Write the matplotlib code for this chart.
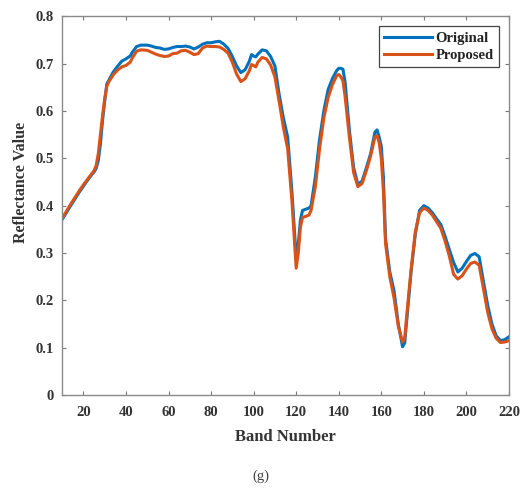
import matplotlib.pyplot as plt

# reflectance spectrum, original vs. reconstructed
bands = [10, 12, 14, 16, 18, 20, 22, 24, 25, 26, 27, 28, 29, 30, 31, 32, 34, 36, 38, 40,
         42, 43, 45, 47, 50, 52, 54, 56, 58, 60, 62, 64, 66, 68, 70, 72, 74, 76, 78, 80,
         82, 84, 86, 88, 90, 92, 94, 96, 98, 99, 100, 101, 102, 104, 106, 108, 110, 112, 114, 116,
         118, 120, 121, 122, 123, 126, 127, 129, 131, 133, 135, 137, 139, 140, 141, 142, 143, 145, 147, 149,
         151, 153, 155, 157, 158, 159, 160, 161, 162, 164, 166, 168, 170, 171, 172, 174, 176, 178, 180, 182,
         184, 186, 188, 190, 192, 194, 196, 198, 200, 202, 204, 206, 208, 210, 212, 214, 216, 218, 220]

original = [0.371, 0.385, 0.400, 0.414, 0.428, 0.441, 0.454, 0.466, 0.471, 0.479, 0.495, 0.530, 0.580, 0.620, 0.657, 0.665, 0.682, 0.694, 0.705, 0.710,
            0.716, 0.724, 0.736, 0.739, 0.739, 0.737, 0.734, 0.733, 0.730, 0.731, 0.734, 0.736, 0.736, 0.737, 0.735, 0.731, 0.735, 0.741, 0.744, 0.744,
            0.746, 0.747, 0.741, 0.732, 0.715, 0.695, 0.681, 0.687, 0.705, 0.719, 0.716, 0.714, 0.720, 0.729, 0.727, 0.715, 0.695, 0.635, 0.585, 0.545,
            0.430, 0.290, 0.320, 0.370, 0.390, 0.395, 0.400, 0.460, 0.540, 0.600, 0.645, 0.668, 0.685, 0.690, 0.690, 0.688, 0.660, 0.560, 0.480, 0.445,
            0.452, 0.480, 0.510, 0.555, 0.560, 0.545, 0.525, 0.460, 0.330, 0.260, 0.220, 0.150, 0.102, 0.110, 0.160, 0.260, 0.340, 0.390, 0.400, 0.395,
            0.385, 0.372, 0.360, 0.335, 0.307, 0.280, 0.260, 0.268, 0.282, 0.295, 0.299, 0.292, 0.240, 0.190, 0.150, 0.125, 0.115, 0.117, 0.123]

proposed = [0.373, 0.388, 0.403, 0.417, 0.431, 0.444, 0.456, 0.468, 0.474, 0.485, 0.510, 0.550, 0.590, 0.625, 0.652, 0.662, 0.676, 0.686, 0.693, 0.696,
            0.703, 0.712, 0.726, 0.729, 0.728, 0.724, 0.720, 0.717, 0.715, 0.716, 0.721, 0.722, 0.727, 0.728, 0.724, 0.719, 0.721, 0.733, 0.737, 0.736,
            0.736, 0.735, 0.730, 0.722, 0.703, 0.678, 0.662, 0.668, 0.685, 0.698, 0.696, 0.693, 0.703, 0.713, 0.710, 0.697, 0.672, 0.620, 0.565, 0.520,
            0.410, 0.268, 0.300, 0.355, 0.375, 0.380, 0.390, 0.440, 0.520, 0.585, 0.628, 0.655, 0.674, 0.677, 0.672, 0.663, 0.630, 0.545, 0.470, 0.440,
            0.447, 0.474, 0.505, 0.545, 0.548, 0.533, 0.500, 0.430, 0.320, 0.250, 0.205, 0.145, 0.112, 0.120, 0.170, 0.265, 0.345, 0.385, 0.395, 0.390,
            0.380, 0.366, 0.352, 0.325, 0.293, 0.255, 0.245, 0.252, 0.266, 0.278, 0.281, 0.274, 0.225, 0.175, 0.140, 0.120, 0.111, 0.112, 0.115]

xticks = [20, 40, 60, 80, 100, 120, 140, 160, 180, 200, 220]
yticks = [0, 0.1, 0.2, 0.3, 0.4, 0.5, 0.6, 0.7, 0.8]

plt.rcParams['font.family'] = ['Liberation Serif', 'DejaVu Serif']
plt.rcParams['font.weight'] = 'bold'

fig = plt.figure(figsize=(5.22, 4.92), dpi=100)
ax = fig.add_axes([0.119, 0.197, 0.856, 0.770])

ax.plot(bands, original, color='#0072BD', lw=2.2, label='Original')
ax.plot(bands, proposed, color='#D95319', lw=2.2, label='Proposed')

ax.set_xlim(10, 220)
ax.set_ylim(0, 0.8)
ax.set_xticks(xticks)
ax.set_yticks(yticks)
ax.set_yticklabels(['0', '0.1', '0.2', '0.3', '0.4', '0.5', '0.6', '0.7', '0.8'])
ax.tick_params(direction='in', top=True, right=True, length=3, width=0.8,
               color='#7a7a7a', labelcolor='#333333', labelsize=10.5, pad=6)
ax.tick_params(axis='x', pad=8)
for sp in ax.spines.values():
    sp.set_color('#8a8a8a')
    sp.set_linewidth(1.0)

ax.set_xlabel('Band Number', fontsize=12, fontweight='bold', color='#333333', labelpad=7)
ax.set_ylabel('Reflectance Value', fontsize=11.5, fontweight='bold', color='#333333')
ax.yaxis.set_label_coords(-0.075, 0.56)

leg = ax.legend(loc='upper right', fontsize=10.5, handlelength=3.3, handletextpad=0.25,
                borderpad=0.35, labelspacing=0.3, fancybox=False, framealpha=1,
                borderaxespad=0.7)
leg.get_frame().set_edgecolor('#444444')
leg.get_frame().set_linewidth(0.9)
for t in leg.get_texts():
    t.set_color('#222222')

fig.text(0.5, 0.031, '(g)', ha='center', va='center', fontsize=10.5,
         fontweight='normal', color='#444444')

fig.savefig('out.png', dpi=100)
